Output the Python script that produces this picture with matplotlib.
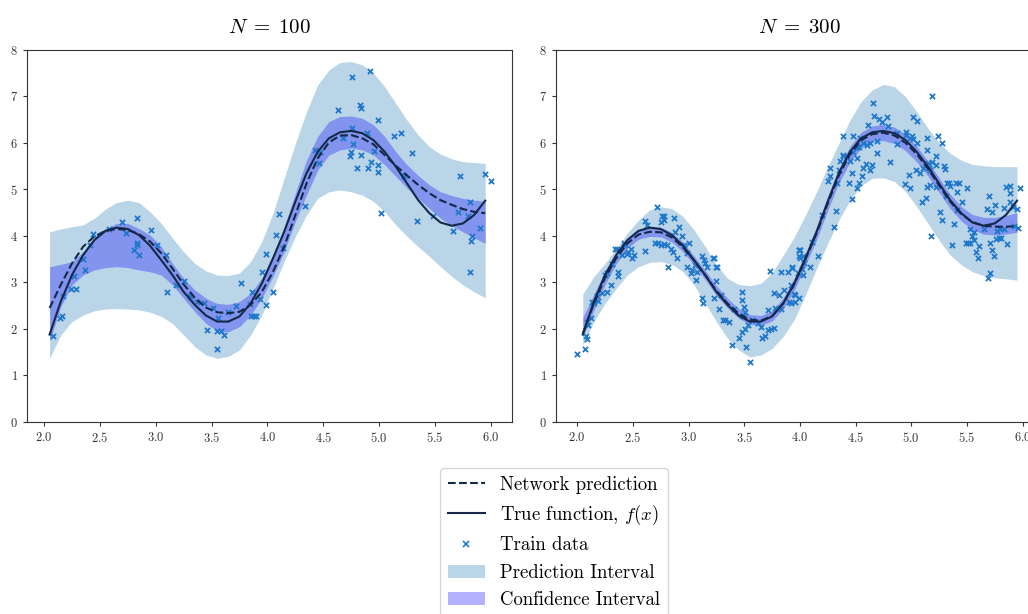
import numpy as np
import matplotlib.pyplot as plt
from matplotlib.patches import Patch
from matplotlib.lines import Line2D

plt.rcParams['font.family'] = 'cmr10'
plt.rcParams['mathtext.fontset'] = 'cm'
plt.rcParams['axes.formatter.use_mathtext'] = True

# x grid the curves are drawn on
x_grid = [2.05, 2.15, 2.25, 2.35, 2.45, 2.55, 2.65, 2.75, 2.85, 2.95,
          3.05, 3.15, 3.25, 3.35, 3.45, 3.55, 3.65, 3.75, 3.85, 3.95,
          4.05, 4.15, 4.25, 4.35, 4.45, 4.55, 4.65, 4.75, 4.85, 4.95,
          5.05, 5.15, 5.25, 5.35, 5.45, 5.55, 5.65, 5.75, 5.85, 5.95]

# true function f(x), same in both panels
true_y = [1.88, 2.59, 3.16, 3.59, 3.91, 4.11, 4.18, 4.15, 4.02, 3.79,
          3.48, 3.16, 2.80, 2.52, 2.29, 2.16, 2.16, 2.27, 2.55, 2.98,
          3.52, 4.09, 4.74, 5.35, 5.81, 6.10, 6.23, 6.26, 6.21, 6.06,
          5.81, 5.49, 5.13, 4.77, 4.49, 4.29, 4.22, 4.27, 4.45, 4.76]

# ---- N = 100 ----
pred_100 = [2.45, 2.95, 3.41, 3.77, 3.99, 4.11, 4.15, 4.13, 4.04, 3.88,
            3.63, 3.30, 2.96, 2.67, 2.46, 2.36, 2.34, 2.37, 2.52, 2.80,
            3.23, 3.77, 4.45, 5.13, 5.67, 6.01, 6.16, 6.17, 6.10, 5.97,
            5.74, 5.51, 5.30, 5.10, 4.92, 4.77, 4.67, 4.58, 4.52, 4.49]
ci_hi_100 = [3.34, 3.39, 3.45, 3.66, 3.96, 4.16, 4.27, 4.27, 4.16, 4.02,
             3.77, 3.41, 3.09, 2.84, 2.66, 2.55, 2.53, 2.59, 2.77, 3.10,
             3.59, 4.20, 4.92, 5.63, 6.14, 6.46, 6.57, 6.58, 6.53, 6.39,
             6.14, 5.81, 5.53, 5.30, 5.10, 4.95, 4.87, 4.81, 4.77, 4.75]
ci_lo_100 = [1.73, 2.48, 2.95, 3.16, 3.27, 3.32, 3.34, 3.32, 3.27, 3.23,
             3.16, 2.95, 2.66, 2.37, 2.12, 1.96, 1.94, 2.05, 2.30, 2.66,
             3.13, 3.66, 4.31, 4.88, 5.42, 5.74, 5.85, 5.89, 5.85, 5.74,
             5.53, 5.28, 5.03, 4.81, 4.59, 4.38, 4.22, 4.09, 3.96, 3.84]
pi_hi_100 = [4.09, 4.15, 4.20, 4.24, 4.38, 4.58, 4.72, 4.77, 4.72, 4.52,
             4.27, 3.96, 3.66, 3.41, 3.25, 3.16, 3.15, 3.20, 3.45, 3.88,
             4.49, 5.24, 5.99, 6.67, 7.25, 7.57, 7.73, 7.75, 7.68, 7.50,
             7.21, 6.85, 6.49, 6.17, 5.92, 5.76, 5.66, 5.60, 5.58, 5.56]
pi_lo_100 = [1.37, 1.87, 2.16, 2.30, 2.39, 2.43, 2.44, 2.43, 2.41, 2.36,
             2.27, 2.12, 1.87, 1.62, 1.44, 1.37, 1.41, 1.55, 1.87, 2.30,
             2.87, 3.45, 3.99, 4.45, 4.81, 4.95, 4.99, 4.95, 4.88, 4.74,
             4.52, 4.24, 3.99, 3.77, 3.56, 3.34, 3.13, 2.95, 2.80, 2.67]
train_x_100 = [2.08, 2.14, 2.16, 2.17, 2.24, 2.29, 2.27, 2.37, 2.35, 2.41,
               2.44, 2.58, 2.70, 2.73, 2.83, 2.81, 2.83, 2.83, 2.85, 2.96,
               3.01, 3.09, 3.10, 3.18, 3.25, 3.31, 3.37, 3.43, 3.51, 3.46,
               3.55, 3.58, 3.61, 3.55, 3.56, 3.65, 3.72, 3.76, 3.84, 3.85,
               3.88, 3.90, 3.93, 3.99, 3.86, 3.95, 3.99, 4.05, 4.08, 4.10,
               4.14, 4.34, 4.43, 4.47, 4.46, 4.63, 4.68, 4.76, 4.92, 4.76,
               4.77, 4.75, 4.74, 4.80, 4.83, 4.84, 4.84, 4.89, 4.90, 4.93,
               4.95, 4.99, 4.99, 4.99, 5.02, 5.13, 5.20, 5.22, 5.29, 5.34,
               5.48, 5.66, 5.72, 5.71, 5.81, 5.80, 5.81, 5.82, 5.83, 5.90,
               5.95, 6.00]
train_y_100 = [1.85, 2.24, 2.29, 2.70, 2.87, 2.85, 3.13, 3.27, 3.51, 3.81,
               4.04, 4.16, 4.31, 4.06, 4.38, 3.70, 3.86, 3.81, 3.59, 4.13,
               3.81, 3.59, 2.80, 2.95, 3.03, 2.72, 2.59, 2.55, 2.46, 1.97,
               1.96, 1.96, 1.87, 1.58, 2.23, 2.37, 2.50, 2.98, 2.53, 2.27,
               2.29, 2.27, 2.65, 2.52, 2.79, 3.23, 3.61, 2.80, 4.02, 4.47,
               3.75, 4.65, 5.85, 5.81, 5.56, 6.71, 6.11, 7.41, 7.55, 6.32,
               5.97, 5.80, 5.73, 5.46, 6.82, 6.76, 5.74, 6.21, 5.46, 5.60,
               5.83, 5.53, 5.38, 6.49, 4.49, 6.14, 6.21, 5.28, 5.79, 4.32,
               4.42, 4.11, 5.28, 4.52, 4.74, 4.44, 3.22, 3.89, 3.99, 4.18,
               5.33, 5.18]

# ---- N = 300 ----
pred_300 = [1.90, 2.55, 3.10, 3.52, 3.84, 4.03, 4.09, 4.08, 3.97, 3.76,
            3.47, 3.16, 2.82, 2.55, 2.33, 2.20, 2.18, 2.28, 2.55, 2.97,
            3.50, 4.06, 4.70, 5.30, 5.76, 6.06, 6.19, 6.22, 6.16, 6.00,
            5.76, 5.45, 5.09, 4.74, 4.47, 4.30, 4.22, 4.20, 4.20, 4.21]
ci_hi_300 = [2.25, 2.75, 3.25, 3.64, 3.95, 4.14, 4.20, 4.19, 4.08, 3.87,
             3.57, 3.26, 2.93, 2.66, 2.44, 2.31, 2.29, 2.39, 2.67, 3.10,
             3.63, 4.20, 4.85, 5.46, 5.93, 6.23, 6.37, 6.40, 6.34, 6.18,
             5.93, 5.61, 5.25, 4.90, 4.63, 4.46, 4.40, 4.40, 4.44, 4.50]
ci_lo_300 = [1.82, 2.40, 2.96, 3.40, 3.74, 3.93, 3.99, 3.98, 3.87, 3.66,
             3.37, 3.06, 2.72, 2.45, 2.23, 2.10, 2.08, 2.17, 2.43, 2.84,
             3.37, 3.92, 4.55, 5.14, 5.59, 5.89, 6.02, 6.05, 5.99, 5.83,
             5.59, 5.29, 4.94, 4.59, 4.32, 4.14, 4.04, 4.02, 4.04, 4.08]
pi_hi_300 = [2.75, 3.13, 3.41, 3.73, 4.06, 4.34, 4.56, 4.63, 4.59, 4.42,
             4.13, 3.77, 3.38, 3.09, 2.96, 2.93, 2.98, 3.20, 3.59, 3.98,
             4.45, 4.95, 5.49, 5.99, 6.49, 6.89, 7.14, 7.26, 7.21, 6.99,
             6.67, 6.32, 6.01, 5.78, 5.63, 5.54, 5.51, 5.49, 5.49, 5.49]
pi_lo_300 = [1.65, 2.16, 2.55, 2.87, 3.16, 3.34, 3.43, 3.45, 3.39, 3.23,
             2.95, 2.55, 2.16, 1.80, 1.55, 1.40, 1.44, 1.58, 1.84, 2.20,
             2.73, 3.30, 3.84, 4.34, 4.77, 5.08, 5.24, 5.25, 5.17, 4.95,
             4.63, 4.27, 3.91, 3.59, 3.38, 3.23, 3.15, 3.10, 3.08, 3.05]
train_x_300 = [2.00, 2.07, 2.09, 2.08, 2.10, 2.12, 2.09, 2.13, 2.15, 2.18,
               2.19, 2.22, 2.27, 2.30, 2.25, 2.27, 2.31, 2.34, 2.36, 2.37,
               2.37, 2.40, 2.42, 2.45, 2.46, 2.49, 2.51, 2.43, 2.48, 2.61,
               2.61, 2.63, 2.72, 2.75, 2.76, 2.78, 2.78, 2.87, 2.70, 2.73,
               2.75, 2.78, 2.81, 2.82, 2.84, 2.86, 2.88, 2.90, 2.91, 2.94,
               2.96, 2.99, 3.00, 2.99, 3.02, 3.03, 3.06, 3.08, 3.07, 3.12,
               3.14, 3.15, 3.17, 3.22, 3.23, 3.25, 3.26, 3.25, 3.12, 3.13,
               3.23, 3.27, 3.29, 3.31, 3.33, 3.36, 3.41, 3.48, 3.48, 3.50,
               3.51, 3.49, 3.53, 3.51, 3.48, 3.45, 3.39, 3.52, 3.55, 3.57,
               3.62, 3.65, 3.66, 3.69, 3.71, 3.73, 3.74, 3.77, 3.71, 3.77,
               3.78, 3.81, 3.83, 3.89, 3.86, 3.92, 3.93, 3.95, 3.96, 3.99,
               3.99, 3.90, 3.83, 3.92, 3.96, 3.99, 3.93, 3.99, 4.00, 4.00,
               4.03, 4.02, 3.98, 4.03, 4.09, 4.16, 4.04, 4.11, 4.20, 4.31,
               4.32, 4.25, 4.27, 4.27, 4.33, 4.35, 4.36, 4.39, 4.39, 4.42,
               4.44, 4.47, 4.47, 4.48, 4.51, 4.51, 4.53, 4.54, 4.56, 4.57,
               4.59, 4.61, 4.63, 4.65, 4.67, 4.66, 4.69, 4.71, 4.74, 4.78,
               4.79, 4.81, 4.87, 4.95, 4.94, 4.98, 4.99, 5.02, 5.05, 5.01,
               5.02, 5.05, 5.04, 5.08, 5.10, 5.13, 5.14, 5.14, 5.15, 5.14,
               5.16, 5.17, 5.19, 5.17, 5.18, 5.22, 5.22, 5.24, 5.28, 5.29,
               5.30, 5.26, 5.28, 5.31, 5.34, 5.35, 5.37, 5.38, 5.40, 5.41,
               5.41, 5.43, 5.46, 5.49, 5.50, 5.51, 5.53, 5.53, 5.55, 5.56,
               5.56, 5.58, 5.60, 5.61, 5.65, 5.70, 5.71, 5.71, 5.69, 5.73,
               5.74, 5.73, 5.75, 5.76, 5.79, 5.81, 5.83, 5.83, 5.86, 5.85,
               5.89, 5.89, 5.89, 5.91, 5.92, 5.95, 5.96, 5.98, 5.68, 5.77,
               5.80, 4.39, 4.45, 4.51, 4.53, 4.48, 4.57, 4.60, 4.63, 4.69,
               4.87, 4.95, 4.99, 5.11, 5.19, 5.22, 5.32]
train_y_300 = [1.46, 1.57, 1.78, 1.84, 2.09, 2.23, 2.16, 2.59, 2.55, 2.70,
               2.60, 2.77, 2.79, 2.95, 3.16, 3.20, 3.39, 3.73, 3.73, 3.23,
               3.13, 3.59, 3.84, 3.61, 3.66, 3.52, 3.59, 3.81, 3.73, 3.68,
               4.33, 4.24, 4.62, 4.31, 4.42, 4.44, 4.34, 4.38, 3.84, 3.84,
               3.81, 3.82, 3.81, 3.34, 3.73, 3.66, 4.09, 3.53, 4.20, 3.99,
               3.81, 3.63, 3.84, 3.34, 3.20, 3.27, 3.38, 3.23, 3.05, 3.56,
               3.48, 3.41, 3.34, 3.53, 3.53, 3.33, 3.33, 3.03, 2.66, 2.55,
               2.66, 2.44, 2.73, 2.19, 2.19, 2.16, 2.44, 2.79, 2.62, 2.48,
               2.37, 2.27, 2.09, 2.01, 1.94, 1.81, 1.66, 1.62, 1.30, 2.19,
               2.12, 2.05, 1.80, 1.84, 1.98, 3.25, 2.01, 2.03, 2.41, 2.77,
               2.46, 2.73, 3.23, 3.22, 2.84, 2.95, 3.32, 2.75, 2.59, 3.70,
               3.56, 2.59, 2.44, 2.55, 2.73, 2.66, 3.34, 3.70, 3.70, 3.52,
               3.56, 3.30, 3.20, 3.16, 3.34, 3.57, 3.41, 3.88, 4.45, 4.20,
               4.54, 5.18, 5.30, 5.47, 5.13, 5.42, 5.61, 5.74, 6.16, 5.72,
               5.13, 5.35, 4.80, 5.81, 5.92, 5.03, 5.13, 6.11, 5.28, 5.46,
               5.54, 6.39, 5.42, 5.53, 6.57, 6.85, 5.78, 6.52, 6.46, 6.55,
               6.37, 5.60, 5.97, 6.23, 5.11, 5.31, 5.04, 6.55, 6.48, 6.14,
               6.09, 6.01, 5.42, 5.35, 4.74, 4.81, 6.11, 5.85, 5.56, 5.06,
               5.46, 5.42, 7.00, 5.10, 4.01, 5.71, 5.06, 6.14, 6.01, 5.51,
               5.44, 4.52, 4.34, 4.85, 5.13, 5.08, 3.81, 4.25, 5.13, 4.95,
               4.56, 5.13, 4.74, 3.84, 5.03, 3.84, 3.84, 4.16, 3.99, 3.91,
               4.09, 3.66, 3.53, 3.79, 4.16, 4.87, 3.86, 3.20, 3.10, 3.70,
               3.56, 4.52, 4.67, 3.94, 3.95, 3.95, 4.61, 4.15, 3.82, 5.06,
               5.08, 4.92, 4.74, 4.63, 4.22, 4.59, 4.18, 5.04, 4.58, 4.11,
               4.16, 5.72, 5.61, 5.67, 5.92, 6.14, 5.99, 5.96, 6.01, 6.04,
               6.21, 6.17, 6.10, 5.46, 5.60, 5.53, 5.13]

line_col = '#14284a'
pt_col = '#1f78cc'

fig = plt.figure(figsize=(10.28, 6.14), dpi=100)
ax1 = fig.add_axes([0.0263, 0.3127, 0.4718, 0.6059])
ax2 = fig.add_axes([0.5409, 0.3127, 0.4733, 0.6059])

panels = [
    (ax1, r'$N\;=\;100$', pred_100, ci_lo_100, ci_hi_100, pi_lo_100, pi_hi_100,
     train_x_100, train_y_100, (1.848, 6.19)),
    (ax2, r'$N\;=\;300$', pred_300, ci_lo_300, ci_hi_300, pi_lo_300, pi_hi_300,
     train_x_300, train_y_300, (1.81, 6.18)),
]

for ax, title, pred, ci_lo, ci_hi, pi_lo, pi_hi, tx, ty, xlim in panels:
    ax.fill_between(x_grid, pi_lo, pi_hi, color='tab:blue', alpha=0.3, lw=0, zorder=1)
    ax.fill_between(x_grid, ci_lo, ci_hi, color='blue', alpha=0.3, lw=0, zorder=2)
    ax.scatter(tx, ty, marker='x', s=14, color=pt_col, linewidths=1.3, zorder=3)
    ax.plot(x_grid, pred, '--', color=line_col, lw=1.5, zorder=4)
    ax.plot(x_grid, true_y, '-', color=line_col, lw=1.5, zorder=5)
    ax.set_xlim(*xlim)
    ax.set_ylim(0, 8)
    ax.set_xticks([2.0, 2.5, 3.0, 3.5, 4.0, 4.5, 5.0, 5.5, 6.0])
    ax.set_yticks(range(0, 9))
    ax.tick_params(labelsize=9, length=3, colors='#333333')
    ax.set_title(title, fontsize=15, pad=12)
    for s in ax.spines.values():
        s.set_color('#333333')

handles = [
    Line2D([], [], ls='--', color=line_col, lw=1.5),
    Line2D([], [], ls='-', color=line_col, lw=1.5),
    Line2D([], [], ls='', marker='x', color=pt_col, markersize=4, mew=1.2),
    Patch(facecolor='tab:blue', alpha=0.3),
    Patch(facecolor='blue', alpha=0.3),
]
labels = ['Network prediction', 'True function, $f(x)$', 'Train data',
          'Prediction Interval', 'Confidence Interval']
fig.legend(handles, labels, loc='upper left', bbox_to_anchor=(440 / 1028, 1 - 468 / 614),
           borderaxespad=0, fontsize=13.5, frameon=True)

plt.savefig('out.png', dpi=100)
